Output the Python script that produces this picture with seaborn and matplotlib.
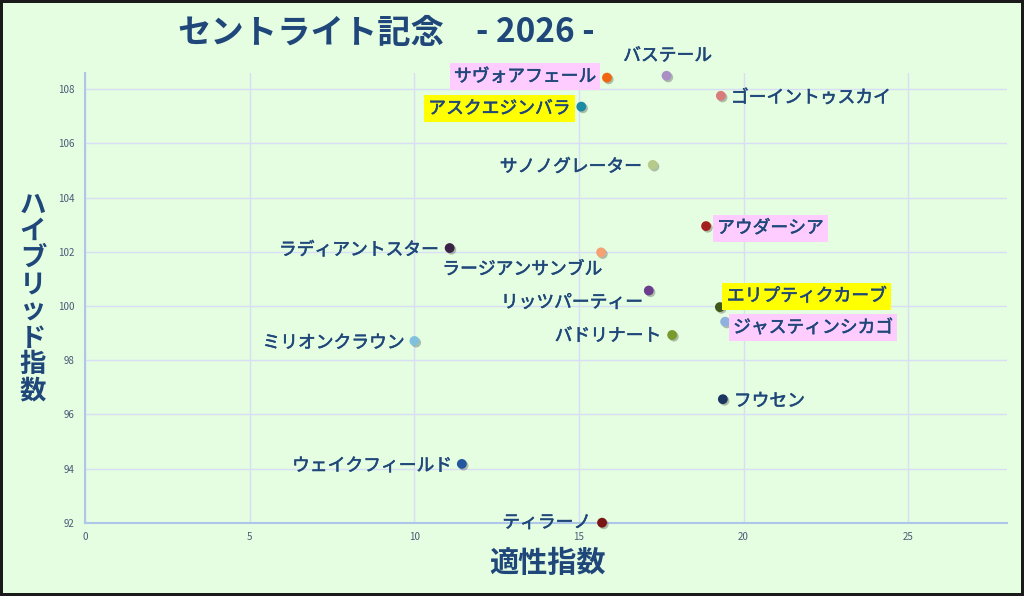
import matplotlib
matplotlib.use('Agg')
import matplotlib.pyplot as plt
import matplotlib.patheffects as pe
import seaborn as sns
import pandas as pd

# 出走馬と指数
horses = ['サヴォアフェール', 'バステール', 'ゴーイントゥスカイ', 'アスクエジンバラ',
          'サノノグレーター', 'アウダーシア', 'ラディアントスター', 'ラージアンサンブル',
          'リッツパーティー', 'エリプティクカーブ', 'ジャスティンシカゴ', 'バドリナート',
          'ミリオンクラウン', 'フウセン', 'ウェイクフィールド', 'ティラーノ']
tekisei = [15.85, 17.66, 19.31, 15.07, 17.24, 18.86, 11.07, 15.67,
           17.12, 19.28, 19.44, 17.83, 10.0, 19.37, 11.44, 15.70]
hybrid = [108.43, 108.50, 107.76, 107.36, 105.21, 102.95, 102.14, 101.98,
          100.57, 99.96, 99.42, 98.93, 98.71, 96.56, 94.17, 92.0]

x_ticks = [0, 5, 10, 15, 20, 25]
y_ticks = [92, 94, 96, 98, 100, 102, 104, 106, 108]

title_main = 'セントライト記念'
title_year = '- 2026 -'
x_title = '適性指数'
y_title = 'ハイブリッド指数'

# 見た目
marker_colors = ['#f0650f', '#a98fc6', '#d97b7d', '#1d8aa6', '#b7ca8c', '#a61f1f',
                 '#3b2345', '#f4a274', '#6b3d8c', '#3f5719', '#8eb1dd', '#789b2b',
                 '#80c2de', '#1b3661', '#2457a0', '#7a1515']
highlight = {'サヴォアフェール': '#ffccff', 'アウダーシア': '#ffccff',
             'ジャスティンシカゴ': '#ffccff', 'アスクエジンバラ': '#ffff00',
             'エリプティクカーブ': '#ffff00'}
# ラベル位置 (dx, dy [px], ha)
label_pos = {
    'サヴォアフェール': (-11, 1, 'right'),
    'バステール': (1, 20, 'center'),
    'ゴーイントゥスカイ': (10, -2, 'left'),
    'アスクエジンバラ': (-11, -2, 'right'),
    'サノノグレーター': (-11, -2, 'right'),
    'アウダーシア': (11, -2, 'left'),
    'ラディアントスター': (-11, -2, 'right'),
    'ラージアンサンブル': (1, -17, 'right'),
    'リッツパーティー': (-6, -12, 'right'),
    'エリプティクカーブ': (7, 11, 'left'),
    'ジャスティンシカゴ': (8, -6, 'left'),
    'バドリナート': (-11, -1, 'right'),
    'ミリオンクラウン': (-10, -2, 'right'),
    'フウセン': (11, -2, 'left'),
    'ウェイクフィールド': (-10, -2, 'right'),
    'ティラーノ': (-11, 0, 'right'),
}

BG = '#e5fde0'
TXT = '#1f477a'

sns.set_style('whitegrid', rc={'axes.facecolor': BG, 'figure.facecolor': BG,
                               'grid.color': '#d8def6', 'axes.edgecolor': '#aec6ea'})
plt.rcParams['font.family'] = ['Noto Sans CJK JP', 'DejaVu Sans']

df = pd.DataFrame({'horse': horses, 'tekisei': tekisei, 'hybrid': hybrid})

fig = plt.figure(figsize=(10.24, 5.96), dpi=100, facecolor=BG,
                 edgecolor='#1a1a1a', linewidth=3)
ax = fig.add_axes([0.0833, 0.123, 0.9, 0.754])

sns.scatterplot(data=df, x='tekisei', y='hybrid', hue='horse',
                palette=dict(zip(horses, marker_colors)), s=50, edgecolor='none',
                legend=False, ax=ax, clip_on=False, zorder=3)
ax.collections[0].set_path_effects([
    pe.SimplePatchShadow(offset=(1.2, -1.2), shadow_rgbFace='k', alpha=0.25),
    pe.Normal()])

# 少し太く見せる
semi_bold = [pe.withStroke(linewidth=0.4, foreground=TXT)]
for name, x, y in zip(horses, tekisei, hybrid):
    dx, dy, ha = label_pos[name]
    box = highlight.get(name)
    ax.annotate(name, (x, y), xytext=(dx, dy), textcoords='offset pixels',
                ha=ha, va='center', fontsize=12.8, color=TXT, zorder=4,
                annotation_clip=False, path_effects=semi_bold,
                bbox=dict(boxstyle='square,pad=0.25', fc=box, ec='none') if box else None)

ax.set_xlim(0, 28)
ax.set_ylim(92, 108.59)
ax.set_xticks(x_ticks)
ax.set_yticks(y_ticks)
ax.set_xlabel('')
ax.set_ylabel('')
ax.tick_params(axis='both', length=0, labelsize=7, labelcolor='#4a5a78')
ax.tick_params(axis='x', pad=7)
ax.tick_params(axis='y', pad=8)
ax.grid(True, lw=1)
for side in ['top', 'right']:
    ax.spines[side].set_visible(False)
for side in ['left', 'bottom']:
    ax.spines[side].set_color('#aec6ea')
    ax.spines[side].set_linewidth(1.5)

fig.text(177 / 1024, 1 - 33 / 596, title_main, ha='left', va='center',
         fontsize=24, weight='bold', color=TXT)
fig.text(476 / 1024, 1 - 33 / 596, title_year, ha='left', va='center',
         fontsize=24, weight='bold', color=TXT)
fig.text(547 / 1024, 1 - 563 / 596, x_title, ha='center', va='center',
         fontsize=21, weight='bold', color=TXT)
for i, ch in enumerate(y_title):
    fig.text(33 / 1024, 1 - (205 + i * 26.6) / 596, ch, ha='center', va='center',
             fontsize=19, weight='bold', color=TXT)

fig.savefig('out.png', dpi=100, facecolor=fig.get_facecolor(),
            edgecolor=fig.get_edgecolor())
